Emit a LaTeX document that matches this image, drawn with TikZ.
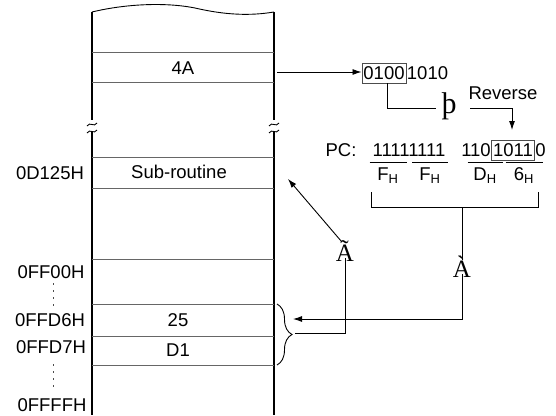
\documentclass[tikz,border=0pt]{standalone}
\usepackage{fontspec}
\setmainfont{Liberation Sans}
\newfontfamily\serifglyph{Liberation Serif}
\usetikzlibrary{arrows.meta,decorations.pathreplacing}

\begin{document}
\begin{tikzpicture}[x=1pt,y=-1pt,>={Latex[length=9pt,width=6pt]},line width=0.9pt,
  every node/.style={font=\fontsize{18.5}{21}\selectfont,inner sep=0pt},
  wall/.style={line width=1.8pt},
  cellline/.style={draw=black!60,line width=1pt},
  glyph/.style={font=\serifglyph\fontsize{25}{28}\selectfont},
  bitbox/.style={draw=black!70,line width=0.8pt,inner xsep=1.5pt,minimum height=20pt}]

\useasboundingbox (0,0) rectangle (556,415);

% memory column
\foreach \x in {92,274} {
  \draw[wall] (\x,12) -- (\x,120) (\x,131) -- (\x,415);
  \draw (\x-5,126) .. controls (\x-2,121) and (\x+2,128) .. (\x+5,123);
  \draw (\x-5,133) .. controls (\x-2,128) and (\x+2,135) .. (\x+5,130);
}
\draw (92,12) .. controls (125,4) and (165,2) .. (195,8) .. controls (225,15) and (250,16) .. (274,12);
\foreach \y in {52,82,157,188,259,304,336,365}
  \draw[cellline] (92,\y) -- (274,\y);

\node (c4a) at (183,68) {4A};
\node (csub) at (179,172) {Sub-routine};
\node (c25) at (178,320) {25};
\node (cd1) at (178,350) {D1};

\node (a0d) at (50,173) {0D125H};
\node (aff00) at (51,272) {0FF00H};
\node (affd6) at (50,320) {0FFD6H};
\node (affd7) at (51,347) {0FFD7H};
\node (affff) at (52,405) {0FFFFH};
\draw[black!70,dash pattern=on 2pt off 5pt] (53,283) -- (53,307);
\draw[black!70,dash pattern=on 2pt off 5pt] (53,364) -- (53,390);

% byte 4A
\node[bitbox] (hi) at (384,73) {0100};
\node[anchor=west] (lo) at (hi.east) {1010};
\coordinate (p4a) at (277,72);
\draw[->] (p4a) -- (p4a -| hi.west);

\node[glyph,font=\serifglyph\fontsize{30}{32}\selectfont] (thorn) at (449,106) {þ};
\node (reverse) at (503,93) {Reverse};
\draw ([xshift=3pt]hi.south) |- (436,108);
\coordinate (revtip) at (512,130);
\draw[->] (470,108) -| (revtip);

% program counter
\node (pc) at (341,150) {PC:};
\node (hibyte) at (409,150) {11111111};
\node[bitbox] (rev) at (513,150) {1011};
\node[anchor=east] (b110) at (rev.west) {110};
\node[anchor=west] (b0) at (rev.east) {0};

\foreach \x/\w/\t in {388/37/F,430/36/F,485/35/D,524/37/6} {
  \node (h\t) at (\x,176) {\t\textsubscript{H}};
  \draw (\x-\w/2,162) -- (\x+\w/2,162);
}
\draw (371,192) |- (538,207) -- (538,192);
\coordinate (brk) at (462,207);

% links back to memory
\node[glyph] (agrave) at (462,267) {À};
\node[glyph] (atilde) at (345,251) {Ã};
\coordinate (in25) at (293,319);
\coordinate (tosub) at (288,179);
\coordinate (bracetip) at (295,333);

\draw (brk) -- ([yshift=-4pt]agrave.north);
\draw[->] ([yshift=4pt]agrave.south) |- (in25);
\draw[decorate,decoration={brace,amplitude=15pt}] (277,304) -- (277,365);
\draw (bracetip) -| ([yshift=4pt]atilde.south);
\draw[->] ([xshift=-3pt,yshift=-2pt]atilde.north) -- (tosub);
\end{tikzpicture}
\end{document}
